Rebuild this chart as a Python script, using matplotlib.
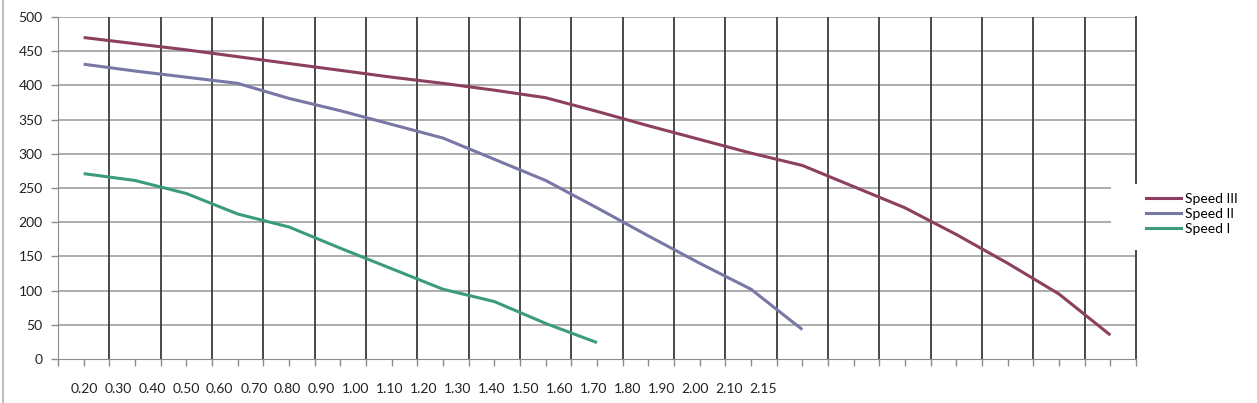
import numpy as np
import matplotlib
matplotlib.use("Agg")
import matplotlib.pyplot as plt
from matplotlib.lines import Line2D
from matplotlib.patches import Rectangle

plt.rcParams['font.family'] = ['Lato', 'DejaVu Sans']

# x categories (labels as printed under the axis)
x_labels = ['0.20', '0.30', '0.40', '0.50', '0.60', '0.70', '0.80', '0.90', '1.00', '1.10',
            '1.20', '1.30', '1.40', '1.50', '1.60', '1.70', '1.80', '1.90', '2.00', '2.10', '2.15']
n_cat = len(x_labels)

# values, one per category from the left
speed_3 = [470, 461, 452, 442, 432, 422, 412, 403, 393, 382, 362,
           341, 321, 301, 283, 252, 221, 182, 140, 95, 35]
speed_2 = [431, 421, 412, 403, 381, 363, 343, 323, 292, 261, 221,
           180, 140, 102, 43]
speed_1 = [271, 261, 242, 212, 193, 162, 132, 102, 84, 52, 24]

y_ticks = [0, 50, 100, 150, 200, 250, 300, 350, 400, 450, 500]

series = [('Speed III', speed_3, '#8c3f5e'),
          ('Speed II', speed_2, '#7878a6'),
          ('Speed I', speed_1, '#3c9c79')]

fs = 10

fig = plt.figure(figsize=(12.57, 4.03), dpi=100)
ax = fig.add_axes([58 / 1257, 1 - 359 / 403, (1136 - 58) / 1257, (359 - 17) / 403])

# gridlines: grey horizontals, dark verticals at category boundaries
for yv in y_ticks[1:]:
    ax.axhline(yv, color='#a6a6a6', lw=1.3, zorder=1)
for b in np.arange(0.5, n_cat - 0.5, 1.0):
    ax.axvline(b, color='#3a3a3a', lw=1.3, zorder=1)

for name, vals, col in series:
    ax.plot(np.arange(len(vals)), vals, color=col, lw=2.2, label=name, zorder=3,
            solid_capstyle='butt')

ax.set_xlim(-0.5, n_cat - 0.5)
ax.set_ylim(0, 500)
ax.set_yticks(y_ticks)
ax.set_yticklabels([str(v) for v in y_ticks], fontsize=fs, color='#222222')
ax.tick_params(axis='y', length=5, color='#8c8c8c', width=1, pad=6)

ax.set_xticks(np.arange(-0.5, n_cat, 0.5))
ax.set_xticklabels([])
ax.tick_params(axis='x', length=5, color='#8c8c8c', width=1, direction='out')

ax.spines['top'].set_visible(False)
ax.spines['left'].set_color('#8c8c8c')
ax.spines['bottom'].set_color('#8c8c8c')
ax.spines['right'].set_color('#3a3a3a')
ax.spines['right'].set_linewidth(1.3)

# labels squeezed together under the axis as in the original
lab_x0 = (84 - 58) / 1078
lab_dx = 33.95 / 1078
for i, lab in enumerate(x_labels):
    ax.text(lab_x0 + i * lab_dx, -0.088, lab, transform=ax.transAxes,
            ha='center', va='center', fontsize=fs, color='#222222')

# white block behind the legend that hides the grid's right end
fig.add_artist(Rectangle((1111 / 1257, 1 - 250 / 403), 140 / 1257, 66 / 403,
                         transform=fig.transFigure, facecolor='white',
                         edgecolor='none', zorder=4))

handles = [Line2D([0], [0], color=c, lw=2.2) for _, _, c in series]
leg = fig.legend(handles, [n for n, _, _ in series], loc='center left',
                 bbox_to_anchor=(1143 / 1257, 1 - 214 / 403), frameon=False,
                 fontsize=fs, handlelength=2.5, handletextpad=0.35,
                 labelspacing=0.22, borderpad=0.2, borderaxespad=0)
leg.set_zorder(5)

# outer chart border on the left
fig.add_artist(Line2D([3 / 1257, 3 / 1257], [0, 1], color='#bdbdbd', lw=1.5))

fig.savefig('out.png', dpi=100, facecolor='white')
